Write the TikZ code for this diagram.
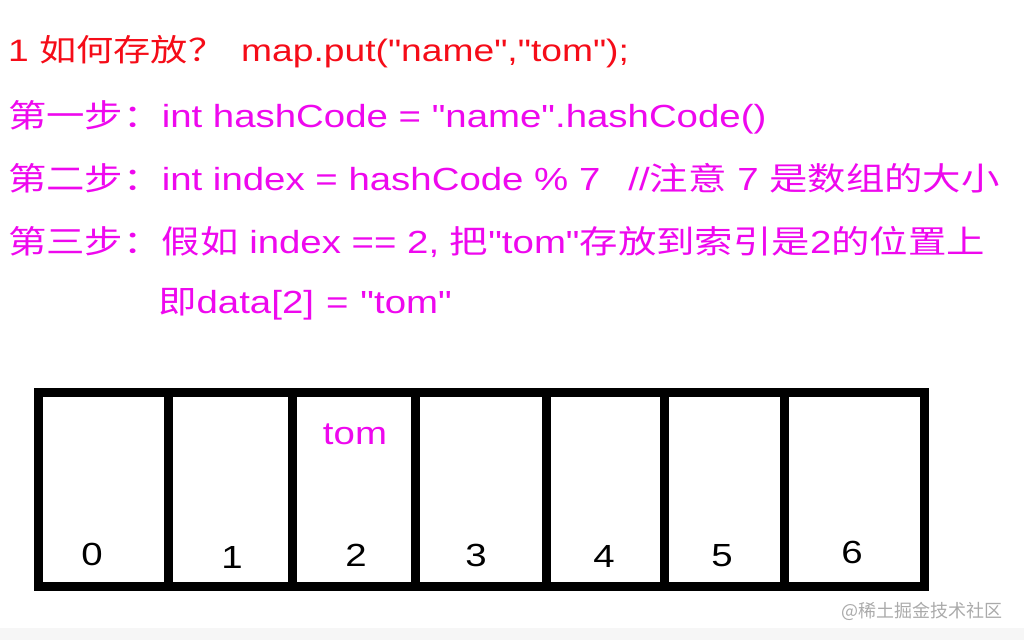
\documentclass[tikz,border=0pt]{standalone}
\usepackage{fontspec}
\newfontfamily\latin{Liberation Sans}[FakeStretch=1.2]
\newfontfamily\cjk{Noto Sans CJK SC}[FakeStretch=1.2]
\newfontfamily\markfont{Noto Sans CJK SC}
\usepackage{tikz}
\usetikzlibrary{positioning,calc}
\definecolor{titlered}{RGB}{245,12,24}
\definecolor{stepmag}{RGB}{238,8,238}
\definecolor{markgray}{RGB}{170,170,170}
\definecolor{bandgray}{RGB}{246,246,246}

\begin{document}
\begin{tikzpicture}[
      x=1pt, y=-1pt,
      line/.style={anchor=base west, inner sep=0pt, font=\latin\fontsize{32}{38}\selectfont},
      redline/.style={line, text=titlered, font=\latin\fontsize{31}{37}\selectfont},
      magline/.style={line, text=stepmag},
      slot/.style={draw=black, line width=9pt},
      idx/.style={anchor=base, inner sep=0pt, font=\latin\fontsize{32}{38}\selectfont}
  ]
  \useasboundingbox (0,0) rectangle (1024,640);
  \fill[bandgray] (0,628) rectangle (1024,640);
  \node[redline] (title) at (8,61) {1 {\cjk 如何存放？}\hspace{16pt}map.put("name","tom");};
  \node[magline] (step1) at (8,127) {{\cjk 第一步：}int hashCode = "name".hashCode()};
  \node[magline] (step2) at (8,190) {{\cjk 第二步：}int index = hashCode \% 7\hspace{28pt}//{\cjk 注意} 7 {\cjk 是数组的大小}};
  \node[magline] (step3) at (8,253) {{\cjk 第三步：假如} index == 2, {\cjk 把}"tom"{\cjk 存放到索引是}2{\cjk 的位置上}};
  \node[magline] (step4) at (158,313) {{\cjk 即}data[2]\hspace{12pt}=\hspace{12pt}"tom"};
  \draw[slot] (38.5,392) rectangle (924,586);
  \foreach \x in {168.5,292,415,546,664.5,784.5}
      \draw[slot] (\x,392) -- (\x,586);
  \node[idx] (i0) at (92,565) {0};
  \node[idx] (i1) at (232,568) {1};
  \node[idx] (i2) at (356,566) {2};
  \node[idx] (i3) at (476,566) {3};
  \node[idx] (i4) at (604,567) {4};
  \node[idx] (i5) at (722,566) {5};
  \node[idx] (i6) at (852,563) {6};
  \node[idx, text=stepmag] (val) at (355,444) {tom};
  \node[anchor=base east, inner sep=0pt, text=markgray, font=\markfont\fontsize{18}{21}\selectfont]
      (mark) at (1003,617) {@稀土掘金技术社区};
\end{tikzpicture}
\end{document}
